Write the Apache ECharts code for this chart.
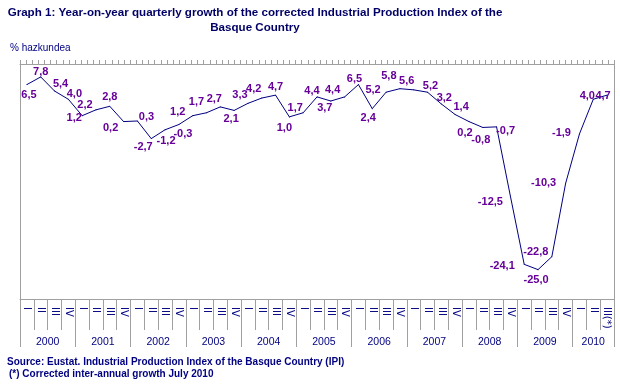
<!DOCTYPE html>
<html><head><meta charset="utf-8">
<script src="https://cdn.jsdelivr.net/npm/echarts@6/dist/echarts.min.js"></script>
<style>html,body{margin:0;padding:0;background:#fff}#c{width:620px;height:388px}</style>
</head><body><div id="c"></div>
<script>
const years = ['2000','2001','2002','2003','2004','2005','2006','2007','2008','2009','2010'];
const quarterNames = ['I','II','III','IV'];
const growth = [6.5,7.8,5.4,4.0, 1.2,2.2,2.8,0.2, 0.3,-2.7,-1.2,-0.3, 1.2,1.7,2.7,2.1,
  3.3,4.2,4.7,1.0, 1.7,4.4,3.7,4.4, 6.5,2.4,5.2,5.8, 5.6,5.2,3.2,1.4,
  0.2,-0.8,-0.7,-12.5, -24.1,-25.0,-22.8,-10.3, -1.9,4.0,4.7];
const lastQuarterNote = '(*)';
const labelOffsets = [[2,10],[0,-5],[6,-7],[6,-5],[-8,2],[-11,-5],[0,-9],[-13,6],[9,-4],[-8,8],[1,11],[4,9],
  [-15,-4],[-10,-11],[-6,-8],[-3,9],[-8,-8],[-8,-9],[0,-8],[-5,11],[-8,-5],[-5,-6],[-6,7],[-12,-7],
  [-4,-6],[-4,9],[-13,-2],[-11,-13],[-7,-9],[3,-6],[3,-6],[6,-8],[-4,11],[-2,13],[9,4],[-20,6],
  [-22,2],[-2,10],[-16,-5],[-22,0],[-18,-1],[-6,-3],[-4,1]];

const n = growth.length;
const categories = growth.map((v, i) => quarterNames[i % 4] + (i === n - 1 ? lastQuarterNote : ''));
const yearTicks = [];
const yearMids = [];
for (let k = 0; k < years.length; k++) {
  const a = 4 * k, b = Math.min(4 * k + 4, n);
  yearTicks.push(a);
  yearMids.push((a + b) / 2);
}
yearTicks.push(n);

const NAVY = '#000080', GRAY = '#a0a0a0', PURPLE = '#660099';
const titleFont = "bold 11.6px 'Liberation Sans', sans-serif";

const chart = echarts.init(document.getElementById('c'));
chart.setOption({
  animation: false,
  backgroundColor: '#fff',
  grid: { left: 20, right: 6, top: 64, bottom: 89, containLabel: false },
  graphic: [
    { type: 'text', x: 255, y: 13, style: { text: 'Graph 1: Year-on-year quarterly growth of the corrected Industrial Production Index of the', textAlign: 'center', textVerticalAlign: 'middle', font: titleFont, fill: '#000066' } },
    { type: 'text', x: 255, y: 28, style: { text: 'Basque Country', textAlign: 'center', textVerticalAlign: 'middle', font: titleFont, fill: '#000066' } },
    { type: 'text', x: 10, y: 48, style: { text: '% hazkundea', textVerticalAlign: 'middle', font: "10px 'Liberation Sans', sans-serif", fill: NAVY } },
    { type: 'text', x: 7, y: 362, style: { text: 'Source: Eustat. Industrial Production Index of the Basque Country (IPI)', textVerticalAlign: 'middle', font: "bold 10px 'Liberation Sans', sans-serif", fill: NAVY } },
    { type: 'text', x: 9, y: 374, style: { text: '(*) Corrected inter-annual growth July 2010', textVerticalAlign: 'middle', font: "bold 10px 'Liberation Sans', sans-serif", fill: NAVY } }
  ],
  xAxis: [
    { type: 'category', data: categories, boundaryGap: true, position: 'bottom',
      axisLine: { onZero: false, lineStyle: { color: GRAY, width: 1 } },
      axisTick: { show: true, interval: 0, length: 31, lineStyle: { color: GRAY } },
      axisLabel: { interval: 0, rotate: -90, margin: 8, color: NAVY, fontSize: 10, fontFamily: 'DejaVu Sans' },
      splitLine: { show: false } },
    { type: 'value', min: 0, max: n, position: 'bottom', offset: 0,
      axisLine: { show: false, onZero: false },
      axisTick: { show: true, customValues: yearTicks, length: 48, lineStyle: { color: GRAY } },
      axisLabel: { customValues: yearMids, margin: 38, color: NAVY, fontSize: 10.5, fontFamily: 'Liberation Sans',
        formatter: v => years[Math.floor(v / 4)] },
      splitLine: { show: false } },
    { type: 'value', min: 0, max: 97, interval: 1, position: 'top',
      axisLine: { show: true, onZero: false, lineStyle: { color: GRAY } },
      axisTick: { show: true, length: 4, lineStyle: { color: GRAY } },
      axisLabel: { show: false }, splitLine: { show: false } }
  ],
  yAxis: [
    { type: 'value', min: -30, max: 10, position: 'left',
      axisLine: { show: true, onZero: false, lineStyle: { color: GRAY } }, axisTick: { show: false },
      axisLabel: { show: false }, splitLine: { show: false } },
    { type: 'value', min: -30, max: 10, position: 'right',
      axisLine: { show: true, onZero: false, lineStyle: { color: GRAY } }, axisTick: { show: false },
      axisLabel: { show: false }, splitLine: { show: false } }
  ],
  series: [{
    type: 'line', xAxisIndex: 0, yAxisIndex: 0,
    symbol: 'circle', symbolSize: 1, showSymbol: true,
    itemStyle: { color: NAVY },
    lineStyle: { color: NAVY, width: 1 },
    label: { show: true, position: 'inside', color: PURPLE, fontWeight: 'bold', fontSize: 11,
      fontFamily: 'Liberation Sans',
      formatter: p => p.value.toFixed(1).replace('.', ',') },
    labelLayout: p => ({ dx: labelOffsets[p.dataIndex][0], dy: labelOffsets[p.dataIndex][1], hideOverlap: false }),
    data: growth
  }]
});
</script></body></html>
